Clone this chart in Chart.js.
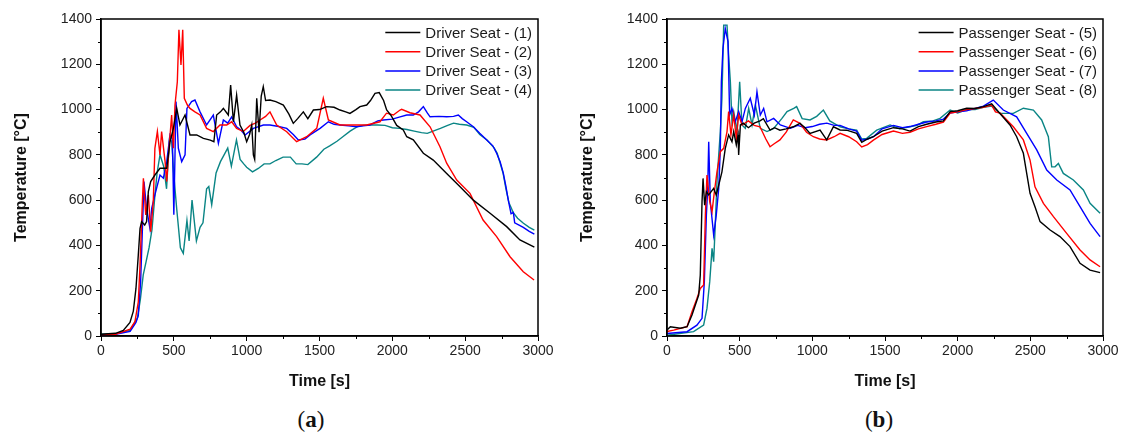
<!DOCTYPE html>
<html>
<head>
<meta charset="utf-8">
<script src="https://cdn.jsdelivr.net/npm/chart.js@4/dist/chart.umd.min.js"></script>
<style>
  body { margin: 0; background: #fff; width: 1125px; height: 434px; position: relative; overflow: hidden; }
  canvas { position: absolute; top: 0; }
  #chartA { left: 0; }
  #chartB { left: 562px; }
  .panel { position: absolute; top: 407px; font-family: 'Liberation Serif', 'Times New Roman', serif; font-size: 23px; color: #111; transform: translateX(-50%); }
</style>
</head>
<body>
<canvas id="chartA" width="562" height="400"></canvas>
<canvas id="chartB" width="563" height="400"></canvas>
<div class="panel" style="left:311px">(<b>a</b>)</div>
<div class="panel" style="left:879px">(<b>b</b>)</div>
<script>
// (a) driver seat thermocouples - time [s] / temperature [°C]
const driver1Time = [0, 100, 153, 199, 222, 240, 256, 268, 279, 300, 313, 325, 341, 370, 405, 451, 474, 497, 520, 542, 577, 611, 657, 703, 750, 775, 794, 820, 840, 874, 890, 909, 931, 954, 980, 1000, 1020, 1035, 1046, 1055, 1069, 1085, 1100, 1114, 1130, 1160, 1200, 1252, 1290, 1320, 1350, 1389, 1420, 1458, 1500, 1549, 1600, 1641, 1680, 1709, 1750, 1778, 1824, 1850, 1881, 1910, 1940, 1961, 1990, 2030, 2075, 2099, 2144, 2213, 2281, 2373, 2465, 2556, 2671, 2785, 2876, 2975];
const driver1Temp = [8, 12, 25, 60, 110, 210, 357, 475, 505, 490, 505, 638, 682, 711, 741, 741, 858, 917, 1005, 932, 976, 888, 888, 873, 865, 858, 976, 990, 1005, 976, 1108, 946, 1064, 932, 900, 858, 890, 932, 800, 780, 1050, 900, 1060, 1101, 1040, 1042, 1035, 1020, 980, 939, 960, 990, 960, 998, 1000, 1013, 1010, 998, 990, 983, 1000, 1013, 1020, 1040, 1072, 1075, 1040, 998, 975, 930, 910, 880, 866, 807, 777, 718, 659, 600, 542, 483, 424, 392];

const driver2Time = [0, 100, 200, 233, 256, 268, 284, 291, 307, 325, 341, 359, 370, 387, 405, 416, 440, 451, 467, 485, 497, 508, 524, 535, 549, 561, 572, 593, 611, 645, 680, 725, 771, 817, 863, 897, 931, 977, 1023, 1060, 1092, 1130, 1160, 1206, 1275, 1343, 1412, 1481, 1526, 1561, 1641, 1733, 1824, 1915, 1960, 2007, 2053, 2064, 2121, 2190, 2259, 2327, 2373, 2442, 2533, 2623, 2716, 2808, 2899, 2973];
const driver2Temp = [5, 8, 30, 63, 150, 313, 593, 697, 535, 623, 461, 594, 829, 903, 800, 903, 770, 682, 829, 976, 829, 1020, 1123, 1352, 1197, 1352, 1050, 1020, 1005, 990, 976, 917, 903, 932, 932, 946, 917, 903, 930, 940, 954, 970, 990, 932, 902, 858, 880, 917, 1050, 954, 932, 932, 932, 946, 984, 976, 998, 1001, 986, 976, 924, 836, 763, 689, 630, 512, 439, 350, 284, 247];

const driver3Time = [0, 100, 200, 240, 256, 272, 286, 295, 313, 336, 348, 370, 405, 428, 451, 474, 490, 500, 515, 531, 554, 577, 590, 622, 645, 680, 725, 771, 806, 840, 870, 897, 931, 960, 989, 1046, 1115, 1160, 1220, 1275, 1320, 1355, 1400, 1435, 1504, 1561, 1600, 1641, 1700, 1755, 1800, 1847, 1900, 1938, 2000, 2053, 2099, 2144, 2180, 2213, 2240, 2259, 2320, 2373, 2420, 2453, 2480, 2510, 2556, 2600, 2648, 2690, 2716, 2740, 2762, 2780, 2796, 2815, 2831, 2840, 2870, 2899, 2940, 2975];
const driver3Temp = [5, 8, 20, 60, 90, 240, 505, 682, 564, 475, 564, 623, 711, 697, 770, 888, 870, 535, 1035, 829, 770, 800, 1005, 1035, 1042, 990, 932, 976, 851, 954, 940, 968, 924, 910, 888, 917, 932, 932, 925, 917, 890, 866, 870, 888, 917, 946, 935, 932, 928, 924, 928, 932, 950, 954, 958, 968, 976, 976, 990, 1013, 985, 968, 970, 968, 970, 976, 960, 946, 924, 895, 866, 840, 807, 770, 718, 660, 600, 540, 545, 500, 490, 480, 462, 450];

const driver4Time = [0, 100, 200, 250, 270, 290, 310, 330, 350, 370, 385, 405, 430, 450, 470, 485, 500, 520, 545, 565, 590, 605, 625, 655, 680, 700, 725, 740, 760, 790, 820, 845, 870, 895, 930, 955, 980, 1000, 1040, 1080, 1120, 1160, 1200, 1250, 1300, 1340, 1380, 1420, 1480, 1530, 1570, 1620, 1660, 1710, 1760, 1800, 1850, 1900, 1950, 2000, 2050, 2100, 2150, 2200, 2240, 2280, 2330, 2380, 2420, 2460, 2510, 2560, 2600, 2650, 2700, 2720, 2760, 2780, 2800, 2830, 2860, 2900, 2940, 2975];
const driver4Temp = [8, 10, 25, 80, 160, 270, 330, 390, 470, 620, 720, 800, 750, 650, 870, 860, 710, 560, 390, 365, 510, 420, 600, 420, 480, 500, 650, 660, 580, 720, 770, 800, 830, 750, 866, 780, 760, 745, 725, 740, 760, 760, 775, 790, 790, 760, 760, 757, 790, 825, 840, 860, 880, 905, 925, 930, 932, 932, 930, 920, 917, 912, 905, 898, 895, 905, 917, 930, 940, 935, 932, 922, 890, 866, 830, 807, 720, 650, 590, 545, 520, 498, 480, 468];

// (b) passenger seat thermocouples
const passenger5Time = [0, 23, 92, 138, 172, 195, 218, 229, 241, 248, 259, 271, 287, 321, 339, 356, 378, 401, 424, 447, 459, 477, 489, 493, 505, 525, 560, 600, 640, 663, 709, 740, 777, 820, 869, 915, 950, 984, 1053, 1099, 1145, 1191, 1236, 1305, 1340, 1380, 1420, 1480, 1558, 1620, 1672, 1730, 1787, 1850, 1902, 1948, 2000, 2062, 2120, 2177, 2234, 2291, 2360, 2406, 2452, 2475, 2498, 2532, 2567, 2636, 2704, 2773, 2842, 2911, 2980];
const passenger5Temp = [26, 41, 34, 41, 93, 137, 181, 269, 593, 696, 578, 637, 623, 652, 623, 667, 725, 829, 888, 858, 903, 844, 888, 800, 932, 940, 920, 940, 950, 960, 909, 920, 909, 915, 924, 939, 920, 895, 909, 866, 924, 910, 909, 895, 855, 870, 880, 905, 920, 915, 905, 925, 935, 945, 950, 991, 995, 1006, 1005, 1013, 1025, 983, 932, 880, 807, 718, 630, 571, 505, 468, 439, 395, 321, 291, 280];

const passenger6Time = [0, 46, 138, 172, 206, 229, 252, 264, 275, 294, 310, 326, 344, 367, 390, 413, 424, 440, 459, 477, 493, 516, 560, 600, 640, 680, 709, 740, 777, 820, 869, 915, 960, 1007, 1050, 1099, 1150, 1191, 1250, 1305, 1340, 1380, 1420, 1480, 1558, 1620, 1672, 1730, 1787, 1850, 1902, 1948, 2000, 2062, 2120, 2177, 2234, 2260, 2291, 2383, 2452, 2498, 2532, 2590, 2659, 2750, 2842, 2911, 2980];
const passenger6Temp = [20, 26, 41, 107, 166, 210, 225, 534, 711, 593, 549, 637, 725, 814, 829, 903, 991, 888, 976, 873, 976, 932, 950, 930, 924, 870, 836, 850, 866, 900, 954, 939, 900, 880, 870, 866, 880, 895, 880, 858, 835, 845, 865, 890, 905, 895, 900, 915, 925, 935, 945, 985, 990, 1000, 1005, 1010, 1020, 990, 985, 924, 866, 777, 659, 586, 527, 453, 380, 336, 306];

const passenger7Time = [0, 138, 206, 241, 257, 271, 280, 287, 298, 321, 339, 356, 367, 374, 385, 401, 420, 431, 447, 470, 493, 516, 539, 573, 601, 619, 642, 665, 688, 734, 780, 849, 900, 950, 1000, 1050, 1100, 1150, 1191, 1250, 1305, 1340, 1380, 1420, 1480, 1558, 1620, 1672, 1730, 1787, 1850, 1902, 1948, 2000, 2062, 2120, 2177, 2245, 2314, 2406, 2475, 2544, 2613, 2682, 2773, 2842, 2911, 2980];
const passenger7Temp = [11, 19, 48, 78, 240, 534, 652, 858, 593, 446, 534, 652, 829, 1123, 1270, 1358, 1300, 976, 1005, 946, 991, 946, 1005, 1050, 976, 1079, 976, 1005, 946, 961, 932, 917, 930, 920, 925, 935, 940, 930, 930, 915, 905, 865, 870, 880, 915, 930, 920, 925, 935, 945, 950, 958, 985, 990, 995, 1005, 1015, 1042, 998, 968, 895, 822, 733, 689, 645, 571, 497, 439];

const passenger8Time = [0, 183, 252, 275, 294, 310, 321, 333, 344, 356, 367, 378, 390, 413, 424, 436, 447, 459, 482, 500, 516, 539, 562, 585, 608, 642, 688, 734, 791, 826, 872, 892, 930, 984, 1030, 1076, 1120, 1191, 1250, 1305, 1340, 1374, 1443, 1535, 1600, 1672, 1720, 1764, 1830, 1879, 1948, 2000, 2062, 2120, 2177, 2234, 2291, 2383, 2452, 2521, 2578, 2624, 2647, 2670, 2693, 2727, 2796, 2865, 2911, 2980];
const passenger8Temp = [3, 19, 48, 122, 240, 387, 328, 505, 682, 800, 903, 1050, 1373, 1373, 1241, 1123, 946, 991, 903, 1123, 932, 917, 1005, 932, 1020, 917, 903, 917, 961, 991, 1005, 1013, 960, 954, 970, 998, 950, 924, 915, 909, 870, 873, 909, 932, 915, 924, 930, 946, 950, 961, 998, 985, 1000, 1000, 1010, 1015, 983, 983, 1006, 998, 954, 880, 747, 747, 762, 718, 689, 645, 586, 542];

const lineColors = ['#000000', '#ff0000', '#0000ff', '#0a8585'];
const yMax = 1400, xMax = 3000;

function toPoints(times, temps) {
  return times.map((t, i) => ({ x: t, y: temps[i] }));
}

// legend in the upper right corner of the plot + frame + minor ticks
const framePlugin = {
  id: 'frame',
  afterDraw(chart) {
    const ctx = chart.ctx;
    const a = chart.chartArea;
    ctx.save();
    ctx.strokeStyle = '#000';
    ctx.lineWidth = 1.5;
    ctx.strokeRect(a.left, a.top, a.right - a.left, a.bottom - a.top);

    // minor ticks
    ctx.lineWidth = 1;
    const xs = chart.scales.x, ys = chart.scales.y;
    ctx.beginPath();
    for (let v = 250; v < xMax; v += 500) {
      const px = Math.round(xs.getPixelForValue(v)) + 0.5;
      ctx.moveTo(px, a.bottom);
      ctx.lineTo(px, a.bottom + 3);
    }
    for (let v = 100; v < yMax; v += 200) {
      const py = Math.round(ys.getPixelForValue(v)) + 0.5;
      ctx.moveTo(a.left, py);
      ctx.lineTo(a.left - 3, py);
    }
    ctx.stroke();

    // legend
    ctx.font = '15px "Liberation Sans", Arial, sans-serif';
    ctx.textBaseline = 'middle';
    const names = chart.data.datasets.map((d) => d.label);
    const w = Math.max(...names.map((n) => ctx.measureText(n).width));
    const textX = a.right - 6 - w;
    chart.data.datasets.forEach((d, i) => {
      const y = a.top + 13.5 + i * 19.2;
      ctx.strokeStyle = d.borderColor;
      ctx.lineWidth = 1.5;
      ctx.beginPath();
      ctx.moveTo(textX - 40, y);
      ctx.lineTo(textX - 5, y);
      ctx.stroke();
      ctx.fillStyle = '#1a1a1a';
      ctx.fillText(d.label, textX, y + 1);
    });
    ctx.restore();
  },
};

const tickFont = { family: '"Liberation Sans", Arial', size: 14 };
const titleFont = { family: '"Liberation Sans", Arial', size: 16, weight: 'bold' };

function makeChart(id, labels, series, yAxisWidth, yTitlePad, rightPad) {
  return new Chart(id, {
    type: 'line',
    data: {
      datasets: series.map((s, i) => ({
        label: labels[i],
        data: toPoints(s[0], s[1]),
        borderColor: lineColors[i],
        borderWidth: 1.4,
        pointRadius: 0,
        tension: 0,
      })),
    },
    options: {
      responsive: false,
      animation: false,
      layout: { padding: { top: 19, right: rightPad, left: 0, bottom: 0 } },
      plugins: { legend: { display: false }, tooltip: { enabled: false } },
      scales: {
        x: {
          type: 'linear',
          min: 0,
          max: xMax,
          afterFit: (scale) => { scale.height = 64; },
          ticks: { stepSize: 500, padding: 2, color: '#222', font: tickFont, callback: (v) => String(v) },
          grid: { drawOnChartArea: false, tickLength: 5, color: '#000', tickWidth: 1 },
          border: { color: '#000', width: 1.5 },
          title: { display: true, text: 'Time [s]', color: '#111', padding: { top: 0, bottom: 9 }, font: titleFont },
        },
        y: {
          min: 0,
          max: yMax,
          afterFit: (scale) => { scale.width = yAxisWidth; },
          ticks: { stepSize: 200, padding: 4, color: '#222', font: tickFont, callback: (v) => String(v) },
          grid: { drawOnChartArea: false, tickLength: 5, color: '#000', tickWidth: 1 },
          border: { color: '#000', width: 1.5 },
          title: { display: true, text: 'Temperature [°C]', color: '#111', padding: { top: yTitlePad, bottom: 0 }, font: titleFont },
        },
      },
    },
    plugins: [framePlugin],
  });
}

makeChart('chartA',
  ['Driver Seat - (1)', 'Driver Seat - (2)', 'Driver Seat - (3)', 'Driver Seat - (4)'],
  [[driver1Time, driver1Temp], [driver2Time, driver2Temp], [driver3Time, driver3Temp], [driver4Time, driver4Temp]],
  101, 12, 24);

makeChart('chartB',
  ['Passenger Seat - (5)', 'Passenger Seat - (6)', 'Passenger Seat - (7)', 'Passenger Seat - (8)'],
  [[passenger5Time, passenger5Temp], [passenger6Time, passenger6Temp], [passenger7Time, passenger7Temp], [passenger8Time, passenger8Temp]],
  105, 16, 22);
</script>
</body>
</html>
